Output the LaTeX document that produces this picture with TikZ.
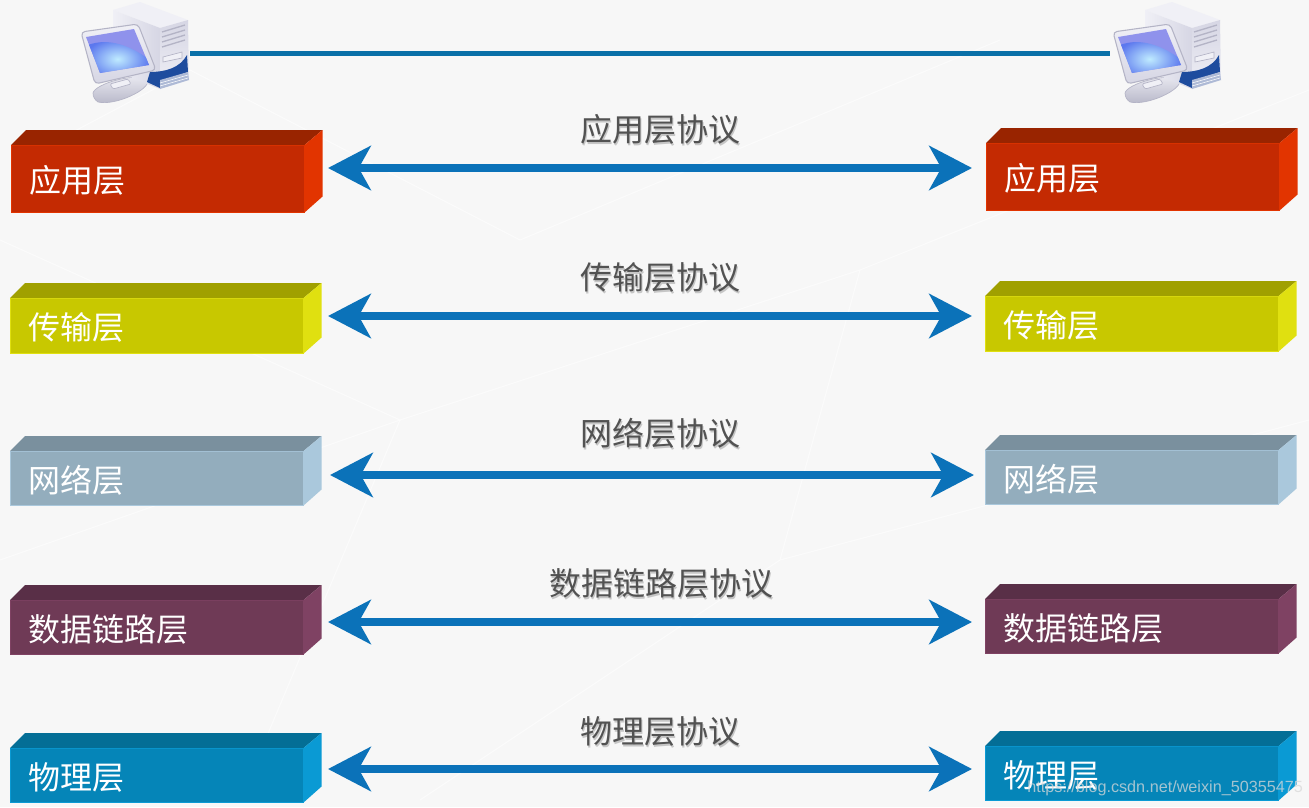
\documentclass[tikz,border=0pt]{standalone}
\usepackage{fontspec}
\usetikzlibrary{arrows.meta}
\newfontfamily\cjk{Noto Sans CJK SC}
\newfontfamily\wmfont{Liberation Sans}

\definecolor{redF}{HTML}{C42A02}
\definecolor{redT}{HTML}{992400}
\definecolor{redS}{HTML}{E23400}
\definecolor{yelF}{HTML}{C8C800}
\definecolor{yelT}{HTML}{A0A000}
\definecolor{yelS}{HTML}{E0E010}
\definecolor{gryF}{HTML}{93ADBD}
\definecolor{gryT}{HTML}{7A909E}
\definecolor{gryS}{HTML}{AAC8DC}
\definecolor{purF}{HTML}{6F3A56}
\definecolor{purT}{HTML}{592F47}
\definecolor{purS}{HTML}{7F4263}
\definecolor{bluF}{HTML}{0585B8}
\definecolor{bluT}{HTML}{046E96}
\definecolor{bluS}{HTML}{0A9AD4}
\definecolor{linkC}{HTML}{0B72B9}
\definecolor{wireC}{HTML}{0A70A8}
\definecolor{caseA}{HTML}{F0F0F6}
\definecolor{caseB}{HTML}{D6D6E4}
\definecolor{caseC}{HTML}{B4B4C6}
\definecolor{scrA}{HTML}{8F92EC}
\definecolor{scrB}{HTML}{5C78EE}
\definecolor{scrC}{HTML}{BFEBFF}
\definecolor{swooshC}{HTML}{1E4C9E}
\definecolor{stripeC}{HTML}{AEBAD6}

\tikzset{
  layer/.style={anchor=north west,inner ysep=0pt,inner xsep=13.5pt,text width=192.75pt,
    align=left,text=white,font=\cjk\fontsize{24}{28}\selectfont},
  proto/.style={inner sep=0.75pt,text=black!68,font=\cjk\fontsize{24}{28}\selectfont},
  protoshadow/.style={proto,text=black!30,opacity=0.7},
  link/.style={line width=6pt,color=linkC,{Stealth[length=32pt,width=33pt,inset=9pt]}-{Stealth[length=32pt,width=33pt,inset=9pt]}},
  faint/.style={white,line width=0.7pt,opacity=0.6}
}

% one computer: name, x offset
\newcommand{\computer}[2]{
  \begin{scope}[shift={(#2,0)}]
    % base and neck
    \draw [caseC,line width=0.5pt,top color=caseA,bottom color=caseC] (93,93) .. controls (95,84) and (135,72) .. (148,80) .. controls (150,90) and (115,106) .. (98,102) .. controls (95,100) and (93,97) .. (93,93) -- cycle ;
    \draw [caseC,line width=0.5pt,fill=caseA,rounded corners=1pt] (110,84) -- (128,79) -- (131,84) -- (113,89) -- cycle ;
    % tower
    \fill [caseA] (113,10) -- (140,2) -- (188,20) -- (160,28) -- cycle ;
    \shade [left color=caseA,right color=caseB] (113,10) -- (160,28) -- (160,89) -- (113,70) -- cycle ;
    \shade [top color=caseB,bottom color=caseA] (160,28) -- (188,20) -- (189,80) -- (160,89) -- cycle ;
    \foreach \ly in {0,5,10,15} {
      \draw [caseC,line width=1pt] (162,32+\ly) -- (185,25+\ly) ;
    }
    \draw [caseC,fill=caseA,line width=0.5pt] (163,57) -- (182,52) -- (182,58) -- (163,62) -- cycle ;
    % blue lower front
    \fill [swooshC] (150,72) .. controls (165,72) and (180,68) .. (187,55) -- (188,72) -- (160,81) -- (160,88) -- (147,82) -- cycle ;
    \fill [stripeC] (160,80) -- (188,72) -- (189,80) -- (160,89) -- cycle ;
    \foreach \ly in {0,3} {
      \draw [white,line width=0.4pt] (160,83+\ly) -- (188,75+\ly) ;
    }
    % monitor
    \draw [caseC,line width=0.8pt,rounded corners=3pt,top color=caseA,bottom color=caseB] (81,32) -- (138,24) -- (156,70) -- (95,84) -- cycle ;
    \begin{scope}
      \clip (86,37) -- (134,29) -- (149,65) -- (100,73) -- cycle ;
      \fill [scrA] (80,25) rectangle (155,80) ;
      \shade [inner color=scrC,outer color=scrB] (85,46) .. controls (105,38) and (125,42) .. (150,60) -- (150,80) -- (85,80) -- cycle ;
    \end{scope}
    \coordinate (#1out) at (190,53) ;
    \coordinate (#1in) at (78,53) ;
  \end{scope}
}
% one layer block: name, x, top y, front height, colour prefix, text
\newcommand{\layerbox}[6]{
  \node [layer,fill=#5F,draw=#5S,line width=0.4pt,minimum height=#4*0.75pt] (#1) at (#2,#3+15) {\raisebox{-1.5pt}[\height][\depth]{#6}};
  \fill [#5T] (#1.north west) -- ++(15,-15) -- ([shift={(18,-15)}]#1.north east) -- (#1.north east) -- cycle ;
  \fill [#5S] (#1.north east) -- ++(18,-15) -- ([shift={(18,-16)}]#1.south east) -- (#1.south east) -- cycle ;
}
% protocol caption and its soft shadow
\newcommand{\protolabel}[4]{
  \node [protoshadow] at (#2+1.5,#3+2) {#4};
  \node [proto] (#1) at (#2,#3) {#4};
}

\begin{document}
\begin{tikzpicture}[x=0.75pt,y=0.75pt,yscale=-1,xscale=1]
\useasboundingbox (0,0) rectangle (1309,807);
\fill [black!3] (0,0) rectangle (1309,807);

% faint background lines
\draw [faint] (20,160) -- (190,70) -- (520,240) -- (1000,40) ;
\draw [faint] (0,240) -- (400,420) -- (860,270) -- (1309,90) ;
\draw [faint] (400,420) -- (240,800) ;
\draw [faint] (860,270) -- (780,560) -- (1309,420) ;
\draw [faint] (780,560) -- (420,800) ;
\draw [faint] (0,560) -- (400,420) ;

% computers
\computer{pcL}{0}
\computer{pcR}{1032}
\draw [wireC,line width=3.75pt] (pcLout) -- (pcRin) ;

% left column
\layerbox{appL}{11}{130}{67}{red}{应用层}
\layerbox{traL}{10}{283}{55}{yel}{传输层}
\layerbox{netL}{10}{436}{54}{gry}{网络层}
\layerbox{datL}{10}{585}{54}{pur}{数据链路层}
\layerbox{phyL}{10}{733}{54}{blu}{物理层}

% right column
\layerbox{appR}{986}{128}{67}{red}{应用层}
\layerbox{traR}{985}{281}{55}{yel}{传输层}
\layerbox{netR}{985}{435}{54}{gry}{网络层}
\layerbox{datR}{985}{584}{54}{pur}{数据链路层}
\layerbox{phyR}{985}{731}{54}{blu}{物理层}

% arrow ends
\coordinate (appA) at (328,168) ;
\coordinate (appB) at (972,168) ;
\coordinate (traA) at (328,316) ;
\coordinate (traB) at (972,316) ;
\coordinate (netA) at (330,475) ;
\coordinate (netB) at (974,475) ;
\coordinate (datA) at (328,622) ;
\coordinate (datB) at (972,622) ;
\coordinate (phyA) at (328,769) ;
\coordinate (phyB) at (972,769) ;
\foreach \lay in {app,tra,net,dat,phy} {
  \draw [link] (\lay A) -- (\lay B) ;
}

% captions
\protolabel{appP}{660}{129}{应用层协议}
\protolabel{traP}{660}{277}{传输层协议}
\protolabel{netP}{660}{433}{网络层协议}
\protolabel{datP}{661}{583}{数据链路层协议}
\protolabel{phyP}{660}{731}{物理层协议}

% watermark
\node [anchor=west,inner sep=0pt,text=black!15,opacity=0.75,font=\wmfont\fontsize{12.15}{15}\selectfont] (mark) at (1027,788) {https://blog.csdn.net/weixin\_50355475};
\end{tikzpicture}
\end{document}
